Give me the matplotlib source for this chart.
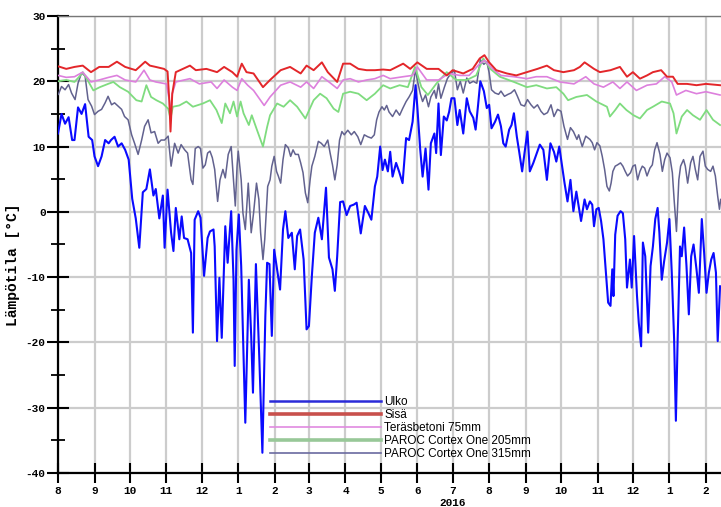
import matplotlib
matplotlib.use('Agg')
import matplotlib.pyplot as plt
import matplotlib.dates as mdates
import numpy as np
import pandas as pd
from matplotlib.lines import Line2D
from matplotlib.ticker import MultipleLocator, FuncFormatter

plt.rcParams['axes.unicode_minus'] = False
plt.rcParams['font.family'] = ['Liberation Mono', 'DejaVu Sans Mono']
plt.rcParams['font.weight'] = 'bold'

START = pd.Timestamp('2015-08-01')

# ---- data (day offset from 2015-08-01, temperature in °C) ----
ulko_day = [0, 3, 6, 9, 12, 14, 17, 20, 23, 26, 29, 31, 34, 37, 40, 43, 45, 48, 51, 54, 57, 60, 63, 66, 69, 72, 75, 78, 81, 83,
            86, 89, 90.5, 93, 96, 98, 100, 103, 105, 107, 110, 113, 114.5, 116, 119, 121, 124, 127, 129, 132, 133, 135, 137, 139,
            142, 144, 147, 149, 150, 151.5, 153.5, 155.5, 159, 162, 164, 165.5, 168, 171, 173.5, 176, 177.5, 179.5, 181.5, 183.5,
            186, 188.5, 191, 193, 195.5, 198.5, 201, 203, 205.5, 208.5, 211, 213, 215.5, 218, 221, 224, 227.5, 230, 233, 235, 237,
            239.5, 242, 245, 248, 251, 253.5, 257, 260.5, 263.5, 266, 269, 271, 273.5, 275.5, 277.5, 280, 282, 284, 287, 289.5,
            292.5, 295.5, 298, 301, 303.5, 305, 307.5, 309.5, 312, 314.5, 316.5, 319.5, 321, 323, 325, 327.5, 330, 332, 334, 336.5,
            339, 341, 344, 347, 349.5, 352.5, 354.5, 356.5, 358.5, 361.5, 364, 366, 368, 371, 373.5, 376, 378, 380, 383, 385, 387,
            389.5, 391.5, 394, 396, 398.5, 400.5, 403.5, 406.5, 409, 412, 415, 418, 421, 423, 425.5, 428, 430, 432.5, 435, 437.5,
            440, 442, 444, 447, 449, 451.5, 453.5, 455, 457, 459, 461, 463, 465.5, 467, 469, 470.5, 471.5, 473, 475, 477.5, 479.5,
            481.5, 483, 485.5, 487, 489, 491.5, 493, 495, 496.5, 498.5, 501, 503, 505, 507, 509, 510.5, 512.5, 514.5, 517, 519, 521,
            523, 524.5, 526, 528, 529.5, 531.5, 533.5, 535.5, 537.5, 539.5, 542, 544, 546.5, 548.5, 550.5, 552.5, 554.5, 556.5,
            558.5, 560, 562]
ulko_val = [12, 15, 13.5, 14.5, 11, 11, 16, 15, 16.5, 11.5, 11, 8.5, 7, 8.5, 11, 10.5, 11, 11.5, 10, 10.5, 9.5, 8, 2, -1, -5.5, 3,
            3.5, 6.5, 2.5, 3.5, -1, 2.5, -5.5, 3.4, -3.2, -6, 0.6, -4.2, -0.7, -4, -4.2, -6.3, -18.5, -1.2, 0.1, -0.9, -9.8, -4,
            -3, -2.7, -5.3, -19.8, -10.1, -19.3, -2.2, -7.8, 0.1, -10.4, -23.6, -5.8, -0.4, -8.3, -32.3, -10.4, -19, -27.7, -8,
            -23, -36.9, -16, -7.8, -8, -19, -5.8, -8.8, -11.9, -2.7, 0.1, -4, -3.2, -8.8, -3.7, -2.7, -7.3, -18, -17.5, -9.8, -3.2,
            -0.9, -4.2, 3.7, -7, -8.8, -12.1, -6.8, 1.5, 1.6, -0.5, 0.9, 1.1, 1.4, -3.3, 0.9, -0.2, -1.2, 3.9, 5.4, 10, 6.4, 8,
            6.2, 9.2, 5.4, 7.5, 6.2, 4.4, 11.3, 11, 13.8, 19.4, 16.1, 9.5, 5.4, 9.7, 3.4, 10.5, 12, 9, 16.6, 8.7, 14.6, 14, 15.3,
            17.4, 17.4, 13.3, 15.6, 12, 17.4, 15.4, 14.4, 12.6, 16.2, 20, 18.5, 15.9, 16.4, 12.8, 13.8, 14.9, 13.1, 10.5, 10, 12.6,
            13.3, 15.1, 11.5, 9.2, 6.2, 9, 12.3, 6.2, 7.5, 9, 10.3, 9.5, 4.9, 10.5, 9.2, 7.7, 10, 6.9, 4.4, 1.6, 4.9, 0.1, 3.1, 0.9,
            -1.4, 1.9, 0.4, 1.6, 1.1, -2.2, 0.4, 0.6, -1.4, -4.2, -10.4, -13.9, -14.4, -8.8, -12.9, -3.5, -0.6, 0.1, -0.2, -4.2,
            -11.6, -7.3, -11.6, -3.7, -12.9, -17, -20.6, -4.7, -6.8, -18.5, -8.3, -5.3, -1.1, 0.6, -3.2, -10.4, -7.6, -4.7, -1.1,
            -9.3, -19.5, -32, -19.5, -5.3, -6.8, -2.4, -8.3, -15.7, -6.8, -5, -8.8, -12.4, -1.1, -6.3, -12.4, -9.3, -7.3, -6.3,
            -9.3, -19.8, -11.4]

sisa_day = [0, 7, 14, 21, 28, 35, 43, 50, 57, 66, 74, 78, 83, 90, 93, 94.5, 95.5, 97, 100, 106, 112, 117, 126, 135, 141, 148,
            152, 156, 160, 166, 174, 180, 189, 197, 206, 211, 217, 224, 229, 237, 242, 248, 255, 262, 269, 276, 282, 293, 299,
            305, 313, 323, 330, 335, 344, 352, 358, 362, 366, 372, 381, 389, 398, 407, 415, 421, 429, 438, 443, 447, 455, 460,
            469, 477, 483, 488, 494, 500, 505, 512, 517, 522, 526, 534, 542, 550, 562]
sisa_val = [22.3, 21.9, 22.2, 22.4, 21.4, 22.2, 22.2, 23.0, 22.2, 21.7, 23.0, 22.4, 22.2, 21.9, 21.5, 17, 12.3, 18.1, 21.4, 21.9,
            22.4, 21.7, 21.9, 21.4, 22.2, 21.4, 20.7, 22.7, 21.4, 21.2, 19.1, 20.2, 21.7, 22.2, 21.2, 22.4, 21.7, 22.9, 21.4,
            19.9, 22.7, 22.7, 21.9, 21.7, 21.7, 21.8, 21.7, 22.7, 21.9, 22.9, 21.9, 21.9, 20.9, 21.7, 21.2, 21.9, 23.5, 24.0,
            22.9, 21.7, 21.2, 20.9, 21.4, 21.9, 22.4, 21.7, 21.4, 21.7, 22.2, 22.9, 21.9, 21.4, 21.7, 22.2, 20.7, 21.4, 20.4,
            20.9, 21.4, 21.7, 20.7, 20.7, 19.6, 19.6, 19.4, 19.6, 19.4]

teras_day = [0, 7, 14, 21, 28, 35, 43, 50, 57, 66, 73, 78, 83, 92, 94.5, 95.5, 97, 100, 112, 120, 130, 135, 141, 148, 152, 156,
             161, 166, 175, 180, 189, 197, 206, 211, 217, 224, 230, 237, 242, 248, 255, 262, 269, 276, 282, 293, 301, 305, 313,
             323, 332, 341, 349, 358, 362, 369, 376, 387, 398, 406, 415, 426, 438, 448, 455, 463, 471, 477, 483, 491, 500, 508,
             515, 521, 525, 533, 542, 550, 562]
teras_val = [20.9, 20.6, 20.7, 21.4, 19.9, 20.2, 20.6, 20.9, 20.2, 19.9, 21.7, 20.2, 19.9, 19.6, 17.1, 14.6, 18.1, 19.9, 20.4,
             19.6, 19.9, 18.9, 20.2, 19.1, 18.6, 20.4, 19.4, 18.6, 16.3, 17.6, 19.4, 19.9, 19.1, 19.9, 18.9, 20.7, 19.9, 18.9,
             20.2, 20.4, 19.9, 20.2, 20.4, 20.9, 20.4, 20.7, 20.9, 22.2, 20.2, 20.2, 21.2, 20.9, 20.9, 22.7, 23.2, 21.9, 20.9,
             20.7, 20.4, 20.7, 20.7, 19.9, 19.6, 20.7, 19.6, 19.1, 19.9, 18.9, 19.9, 18.6, 19.4, 19.6, 20.7, 19.9, 17.9, 18.6,
             18.1, 18.4, 17.9]

p205_day = [0, 7, 14, 19, 21, 26, 30, 35.5, 42.5, 47, 52.5, 59.5, 66.5, 71, 75, 79, 83.5, 89, 93.5, 95.5, 97.5, 103, 109, 114.5,
            123, 129, 134.5, 139, 142, 146, 149, 152, 155, 157.5, 162, 164.5, 169, 174, 177.5, 180, 186, 191.5, 197, 203, 210,
            217, 222.5, 228, 234, 238, 242, 248, 255, 262, 269, 276, 282, 290, 297, 303, 308.5, 314, 321, 330, 338, 347, 355,
            361, 367, 375, 387, 398, 406, 415, 423, 429, 433, 440, 449, 457, 466, 468.5, 473, 477, 482.5, 488.5, 494, 500, 505,
            512.5, 519.5, 522.5, 525, 529.5, 534, 539, 545, 550.5, 556, 562]
p205_val = [20, 20.2, 19.9, 20.9, 21.4, 19.9, 18.6, 19.1, 19.6, 19.9, 19.1, 18.4, 17.1, 16.9, 19.4, 17.6, 17.1, 16.6, 15.8, 14.3,
            16.1, 16.3, 16.9, 16.1, 16.6, 17.1, 15.6, 13.6, 16.6, 15.1, 16.9, 14.6, 16.9, 15.1, 13.3, 14.8, 12.5, 10, 13, 14.8,
            16.6, 16.1, 17.1, 16.1, 14.3, 17.1, 18.1, 17.4, 15.8, 15.3, 18.1, 18.4, 18.1, 17.1, 18.1, 19.4, 18.9, 19.4, 19.1,
            22.2, 19.1, 17.9, 19.6, 21.4, 20.2, 20.2, 20.9, 23.5, 21.9, 20.7, 19.9, 19.1, 19.4, 18.9, 19.1, 18.1, 17.1, 17.6,
            17.9, 16.9, 16.1, 14.6, 15.6, 16.6, 15.6, 14.8, 14.3, 15.6, 16.1, 16.9, 16.6, 15.1, 12, 14.6, 15.6, 14.8, 14.1, 15.6,
            14.1, 13.3]

p315_day = [0.3, 3, 6, 9, 11.5, 14.5, 17, 20, 23, 25.5, 28.5, 31, 34, 37, 40, 42.5, 45.5, 48, 51, 54, 56.5, 59.5, 62.5, 65, 68,
            71, 73.5, 76.5, 79, 82, 85, 87.5, 90.5, 93.5, 96, 99, 102, 104.5, 107.5, 110, 113, 114.5, 116.5, 119, 121, 123, 125,
            127, 129, 131, 133, 135.5, 137.5, 140, 142, 144.5, 147, 149, 150.5, 152, 153, 155.5, 157, 159, 161.5, 164, 166,
            168.5, 170.5, 172, 174, 175.5, 178, 180, 181.5, 183.5, 185.5, 187, 189, 191, 193, 195.5, 197.5, 199.5, 201.5, 204,
            206, 208, 210, 212, 214, 215.5, 218, 221, 223.5, 226, 229, 231, 233, 235, 237, 239, 241, 243, 246, 249, 251.5,
            254.5, 257, 260, 263, 266, 268.5, 270.5, 272.5, 275, 277, 279, 281, 284, 287, 290, 292.5, 295.5, 298, 301, 303.5,
            305, 307.5, 309.5, 312, 314.5, 316.5, 319.5, 321, 323, 325, 328, 330.5, 333.5, 336.5, 339, 341.5, 344, 347, 349.5,
            352.5, 355.5, 358.5, 361.5, 364, 366, 368, 371, 374, 376, 379, 382, 384.5, 387.5, 390, 393, 396, 398.5, 401.5, 404,
            407, 410, 412.5, 415.5, 418.5, 421, 424, 427, 429.5, 432.5, 435, 437.5, 440.5, 442, 445, 448, 451.5, 453.5, 455.5,
            457.5, 460, 462, 464, 466, 468, 469.5, 471, 473, 475, 477.5, 479.5, 481.5, 483.5, 486, 488, 490, 492, 494, 496, 498,
            500, 502.5, 504.5, 506.5, 508.5, 511, 513, 515, 517, 519.5, 521.5, 523, 525, 527, 528.5, 531, 532.5, 534.5, 537, 539,
            541, 543, 545, 547.5, 549.5, 551.5, 554, 556, 558, 560, 561.5, 562.5]
p315_val = [18, 19.2, 18.7, 19.5, 18.2, 17.2, 19.7, 21.3, 20.8, 17.2, 16.2, 14.9, 15.4, 15.7, 16.7, 17.7, 16.4, 16.7, 16.2, 15.7,
            14.6, 14.1, 11.8, 10.5, 8.8, 11, 13.1, 14.1, 12.1, 12.3, 10.5, 11, 11, 11.6, 7, 10.5, 9, 10.3, 9.5, 9, 4.9, 4.2, 9.7,
            10, 9.7, 6.7, 7.2, 9, 9.3, 8.3, 6.5, 1.6, 4.9, 6.5, 5.2, 8.8, 10, 4.9, 0.9, 7, 9.3, 4.9, -0.2, -2.7, 4.4, -3.2, -0.2,
            4.4, 1.9, -3.2, -7.3, -4.2, 3.9, 4.9, 7, 8.5, 6.2, 5.5, 4.4, 8, 10.3, 9.8, 8.5, 9.5, 8.8, 8.8, 7.5, 6, 2.9, 1.4, 4.9,
            7, 8.5, 10.8, 10.5, 10, 11, 9, 7.2, 4.9, 7.2, 11, 12.3, 11.8, 12.5, 11.8, 12.3, 11.5, 10.3, 11.8, 11.5, 11.3, 11.8,
            14.1, 15.3, 16.1, 15.6, 16.3, 15.3, 14.6, 15.6, 14.8, 15.8, 16.9, 17.6, 18.6, 21.9, 20.2, 18.1, 16.9, 17.9, 16.1,
            17.6, 18.6, 17.4, 19.6, 17.4, 19.1, 20.4, 21.2, 21.7, 18.7, 20, 18.2, 20.5, 19.7, 20, 19.7, 23.3, 22.6, 23, 21.3,
            18.7, 18.2, 18, 18.5, 17.7, 18, 18.2, 18.7, 17.7, 16.4, 16.2, 17.2, 16.4, 15.9, 16.4, 15.4, 14.9, 15.2, 16.4, 14.6,
            15.7, 15.4, 13.1, 11.1, 12.9, 12.3, 11.1, 11.8, 10, 11.6, 11.1, 10.6, 9.5, 10.6, 10.1, 8.5, 6.5, 3.9, 3.2, 4.4, 6.2,
            7, 7.2, 7.5, 7, 6.2, 5.5, 6, 7, 7.2, 4.9, 6.2, 7, 6.7, 5.5, 6.7, 7.2, 9.5, 10.6, 8.8, 6.2, 8, 9, 8.3, 6, 1.9, -3,
            4.9, 7, 8, 7, 4.4, 7.5, 8.5, 6.5, 4.9, 8.5, 9.3, 7, 6.5, 6.2, 7, 5.5, 2.4, 0.4, 1.9]

labels = ['Ulko', 'Sisä', 'Teräsbetoni 75mm', 'PAROC Cortex One 205mm', 'PAROC Cortex One 315mm']
line_colors = ['#0a0aff', '#e3262a', '#dd80dd', '#7fdc7f', '#62628f']
legend_colors = ['#2a2ad8', '#c8504c', '#e08ae0', '#98c898', '#6a6aa0']


def to_dates(days):
    return START + pd.to_timedelta(np.asarray(days, dtype=float), unit='D')


fig = plt.figure(figsize=(7.21, 5.07), dpi=100)
ax = fig.add_axes([58 / 721, 34 / 507, 663 / 721, 457 / 507])
ax.set_axisbelow(True)

ax.plot(to_dates(ulko_day), ulko_val, color=line_colors[0], lw=1.5, zorder=3)
ax.plot(to_dates(p315_day), p315_val, color=line_colors[4], lw=1.1, zorder=4)
ax.plot(to_dates(p205_day), p205_val, color=line_colors[3], lw=1.3, zorder=5)
ax.plot(to_dates(teras_day), teras_val, color=line_colors[2], lw=1.2, zorder=6)
ax.plot(to_dates(sisa_day), sisa_val, color=line_colors[1], lw=1.4, zorder=7)

ax.set_xlim(START, START + pd.Timedelta(days=562.8))
ax.set_ylim(-40, 30)

ax.xaxis.set_major_locator(mdates.MonthLocator())
ax.xaxis.set_major_formatter(FuncFormatter(lambda v, p: str(mdates.num2date(v).month)))
ax.yaxis.set_major_locator(MultipleLocator(10))
ax.yaxis.set_minor_locator(MultipleLocator(5))

ax.grid(True, which='major', color='#cccccc', lw=1.6)
ax.tick_params(axis='y', which='major', direction='inout', length=16, width=1.5, labelsize=8, pad=1)
ax.tick_params(axis='y', which='minor', direction='inout', length=10, width=1.3)
ax.tick_params(axis='x', which='major', direction='inout', length=14, width=1.5, labelsize=8, pad=2)

for s in ['left', 'bottom']:
    ax.spines[s].set_linewidth(1.6)
    ax.spines[s].set_color('black')
ax.spines['top'].set_color('#777777')
ax.spines['top'].set_linewidth(1.0)
ax.spines['right'].set_visible(False)

ax.set_ylabel('Lämpötila [°C]', fontsize=10.5, fontweight='bold')
ax.yaxis.set_label_coords(-0.057, 0.455)

fig.text(453 / 721, 1 - 503 / 507, '2016', ha='center', va='center', fontsize=8, fontweight='bold')

handles = [Line2D([], [], color=legend_colors[0], lw=1.8),
           Line2D([], [], color=legend_colors[1], lw=2.6),
           Line2D([], [], color=legend_colors[2], lw=1.2),
           Line2D([], [], color=legend_colors[3], lw=2.6),
           Line2D([], [], color=legend_colors[4], lw=1.2)]
ax.legend(handles, labels, loc='upper left', bbox_to_anchor=(0.320, 0.169), frameon=False,
          handlelength=9.4, handletextpad=0.25, labelspacing=0.1, borderpad=0, borderaxespad=0,
          prop={'family': 'Liberation Sans', 'size': 8.5, 'weight': 'normal'})

fig.savefig('out.png', dpi=100)
